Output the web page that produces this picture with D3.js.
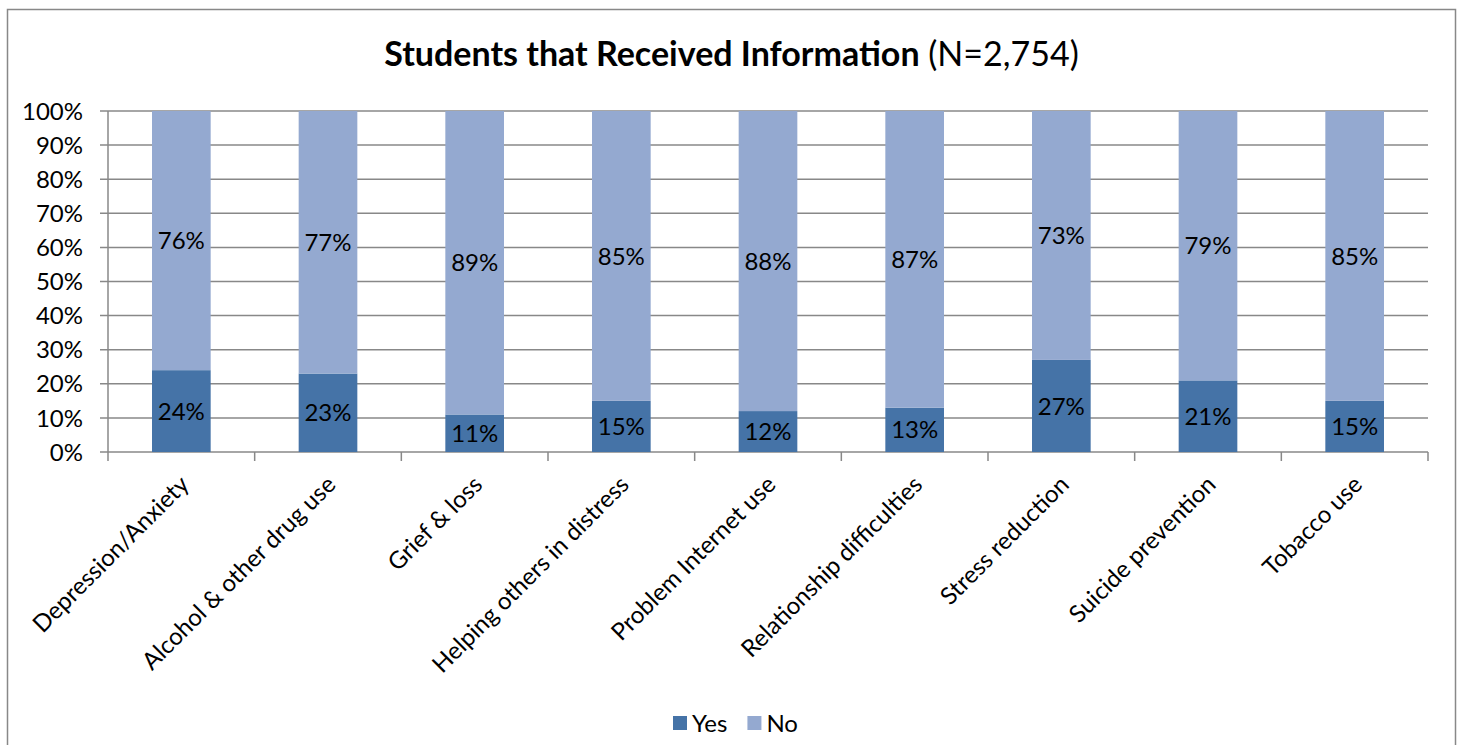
<!DOCTYPE html>
<meta charset="utf-8">
<html>
<head>
  <style>
  body { margin: 0; background: #fff; }
  text { font-family: Lato, "Open Sans", sans-serif; fill: #000; }
  </style>
  <script src="https://cdn.jsdelivr.net/npm/d3@7"></script>
</head>
<body>
  <div id="chart"></div>
  <script type="text/javascript">
  // Chart data
  var categories = ["Depression/Anxiety", "Alcohol & other drug use", "Grief & loss",
    "Helping others in distress", "Problem Internet use", "Relationship difficulties",
    "Stress reduction", "Suicide prevention", "Tobacco use"];
  var yesValues = [24, 23, 11, 15, 12, 13, 27, 21, 15];
  var noValues = [76, 77, 89, 85, 88, 87, 73, 79, 85];
  var seriesNames = ["Yes", "No"];
  var yTicks = [0, 10, 20, 30, 40, 50, 60, 70, 80, 90, 100];

  var W = 1465, H = 745;
  var colors = { Yes: "#4573A7", No: "#94A9D0" };

  // plot area
  var plotLeft = 108, plotRight = 1428, plotTop = 111, plotBottom = 452;
  var labelSize = "24px";

  var svg = d3.select("#chart").append("svg")
    .attr("width", W)
    .attr("height", H);

  // outer frame
  svg.append("rect")
    .attr("x", 7.5).attr("y", 9.5)
    .attr("width", 1448).attr("height", 760)
    .style("fill", "none")
    .style("stroke", "#888")
    .style("stroke-width", 1.5);

  var x = d3.scaleBand()
    .domain(categories)
    .range([plotLeft, plotRight])
    .paddingInner(0.6)
    .paddingOuter(0.3);

  var y = d3.scaleLinear()
    .domain([0, 100])
    .range([plotBottom, plotTop]);

  // gridlines + y labels
  var grid = svg.append("g");
  grid.selectAll("line")
    .data(yTicks)
    .enter().append("line")
    .attr("x1", plotLeft - 8).attr("x2", plotRight)
    .attr("y1", function(d) { return y(d); })
    .attr("y2", function(d) { return y(d); })
    .style("stroke", "#888")
    .style("stroke-width", 1.5);

  grid.selectAll("text")
    .data(yTicks)
    .enter().append("text")
    .attr("x", plotLeft - 25)
    .attr("y", function(d) { return y(d); })
    .attr("dy", "0.36em")
    .style("text-anchor", "end")
    .style("font-size", labelSize)
    .text(function(d) { return d + "%"; });

  // y axis line
  svg.append("line")
    .attr("x1", plotLeft).attr("x2", plotLeft)
    .attr("y1", plotTop).attr("y2", plotBottom)
    .style("stroke", "#888").style("stroke-width", 1.5);

  // x tick marks between categories
  var tickPos = d3.range(categories.length + 1).map(function(i) {
    return plotLeft + i * x.step();
  });
  svg.selectAll(".xtick")
    .data(tickPos)
    .enter().append("line")
    .attr("class", "xtick")
    .attr("x1", function(d) { return d; })
    .attr("x2", function(d) { return d; })
    .attr("y1", plotBottom).attr("y2", plotBottom + 9)
    .style("stroke", "#888").style("stroke-width", 1.5);

  // stacked bars
  var rows = categories.map(function(c, i) {
    return { cat: c, Yes: yesValues[i], No: noValues[i] };
  });
  var stack = d3.stack().keys(seriesNames)(rows);

  var layers = svg.selectAll(".layer")
    .data(stack)
    .enter().append("g")
    .attr("class", "layer")
    .style("fill", function(d) { return colors[d.key]; });

  layers.selectAll("rect")
    .data(function(d) { return d; })
    .enter().append("rect")
    .attr("x", function(d) { return x(d.data.cat); })
    .attr("y", function(d) { return y(d[1]); })
    .attr("width", x.bandwidth())
    .attr("height", function(d) { return y(d[0]) - y(d[1]); });

  // value labels
  stack.forEach(function(s) {
    svg.selectAll(".lbl-" + s.key)
      .data(s)
      .enter().append("text")
      .attr("x", function(d) { return x(d.data.cat) + x.bandwidth() / 2; })
      .attr("y", function(d) { return (y(d[0]) + y(d[1])) / 2; })
      .attr("dy", "0.36em")
      .style("text-anchor", "middle")
      .style("font-size", labelSize)
      .text(function(d) { return (d[1] - d[0]) + "%"; });
  });

  // category labels
  svg.selectAll(".xlabel")
    .data(categories)
    .enter().append("text")
    .attr("class", "xlabel")
    .attr("transform", function(d) {
      return "translate(" + (x(d) + x.bandwidth() / 2 + 3) + "," + (plotBottom + 28) + ") rotate(-45)";
    })
    .attr("dy", "0.36em")
    .style("text-anchor", "end")
    .style("font-size", labelSize)
    .text(function(d) { return d; });

  // title
  var title = svg.append("text")
    .attr("x", 731.5)
    .attr("y", 66)
    .style("text-anchor", "middle")
    .style("font-size", "34px");
  title.append("tspan").style("font-weight", "bold").text("Students that Received Information");
  title.append("tspan").text(" (N=2,754)");

  // legend
  var legend = svg.append("g").attr("transform", "translate(673,723)");
  var lx = 0;
  seriesNames.forEach(function(k) {
    legend.append("rect")
      .attr("x", lx).attr("y", -7)
      .attr("width", 14).attr("height", 14)
      .style("fill", colors[k]);
    var t = legend.append("text")
      .attr("x", lx + 19).attr("y", 0)
      .attr("dy", "0.36em")
      .style("font-size", labelSize)
      .text(k);
    lx += 19 + t.node().getComputedTextLength() + 20;
  });
  </script>
</body>
</html>
